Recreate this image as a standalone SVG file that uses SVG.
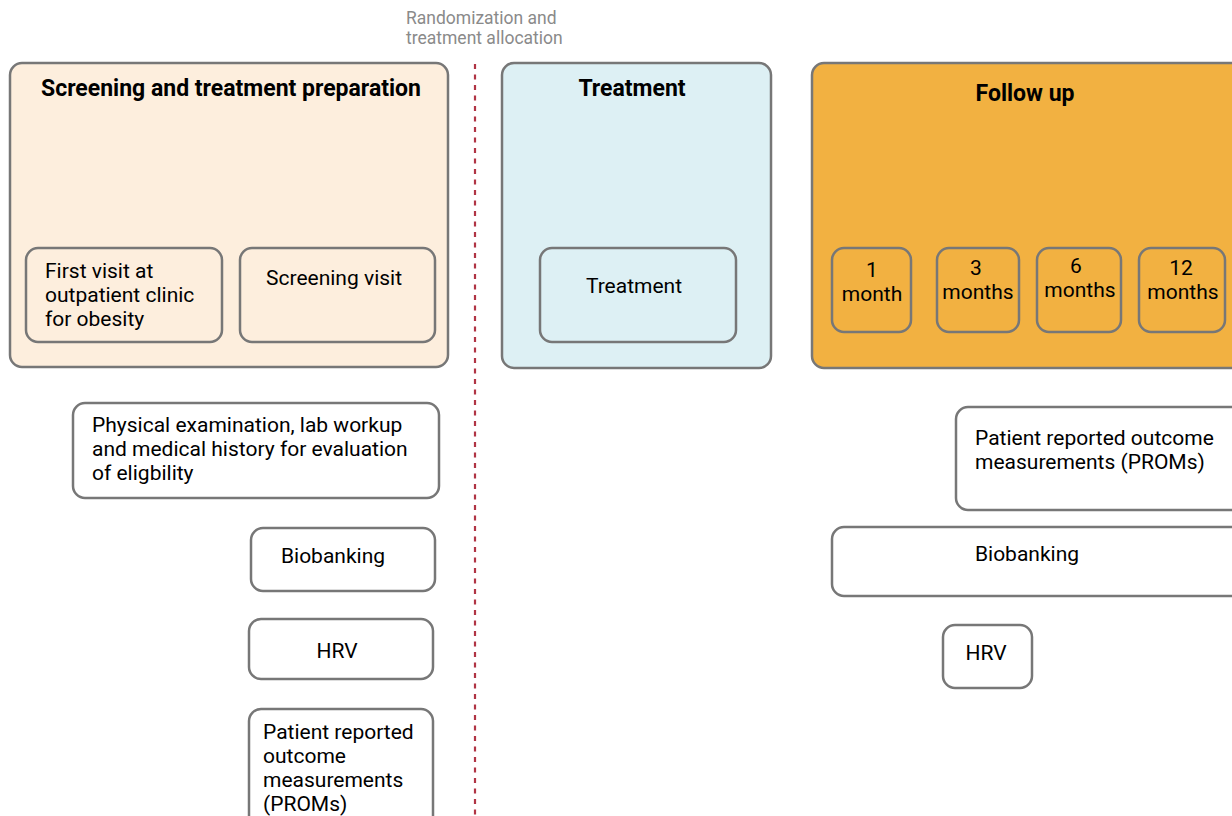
<svg xmlns="http://www.w3.org/2000/svg" width="1232" height="816" viewBox="0 0 1232 816">
<style>
text{font-family:Roboto,"Liberation Sans",sans-serif;fill:#000}
.t{font-size:21px}
.h{font-size:23px;font-weight:bold}
.c{text-anchor:middle}
.box{stroke:#777;stroke-width:2.5}
.w{fill:#fff}
.note{font-size:17.5px;fill:#8a8a8a}
</style>
<rect width="1232" height="816" fill="#fff"/>
<g id="connectors">
<line x1="475" y1="64" x2="475" y2="816" stroke="#b03444" stroke-width="2.2" stroke-dasharray="5 5.5"/>
</g>
<g id="randomization">
<text class="note" x="406" y="24">Randomization and</text>
<text class="note" x="406" y="44">treatment allocation</text>
</g>
<g id="screening">
<rect class="box" x="10" y="63" width="438" height="304" rx="12" fill="#fdeedd"/>
<text class="h c" x="231" y="96">Screening and treatment preparation</text>
</g>
<g id="first-visit">
<rect class="box" x="26" y="248" width="196" height="94" rx="12" fill="#fdeedd"/>
<text class="t" x="45" y="278">First visit at</text>
<text class="t" x="45" y="302">outpatient clinic</text>
<text class="t" x="45" y="326">for obesity</text>
</g>
<g id="screening-visit">
<rect class="box" x="240" y="248" width="195" height="94" rx="12" fill="#fdeedd"/>
<text class="t" x="266" y="285">Screening visit</text>
</g>
<g id="treatment">
<rect class="box" x="502" y="63" width="269" height="305" rx="12" fill="#ddf0f4"/>
<text class="h c" x="632" y="96">Treatment</text>
</g>
<g id="treatment-inner">
<rect class="box" x="540" y="248" width="196" height="94" rx="12" fill="#ddf0f4"/>
<text class="t c" x="634" y="293">Treatment</text>
</g>
<g id="followup">
<rect class="box" x="812" y="63" width="432" height="305" rx="12" fill="#f2b141"/>
<text class="h c" x="1025" y="101">Follow up</text>
</g>
<g id="m1">
<rect class="box" x="832" y="248" width="79" height="84" rx="12" fill="#f2b141"/>
<text class="t c" x="872" y="277">1</text>
<text class="t c" x="872" y="301">month</text>
</g>
<g id="m3">
<rect class="box" x="937" y="248" width="82" height="84" rx="12" fill="#f2b141"/>
<text class="t c" x="976" y="275">3</text>
<text class="t c" x="978" y="299">months</text>
</g>
<g id="m6">
<rect class="box" x="1037" y="248" width="84" height="84" rx="12" fill="#f2b141"/>
<text class="t c" x="1076" y="273">6</text>
<text class="t c" x="1080" y="297">months</text>
</g>
<g id="m12">
<rect class="box" x="1139" y="248" width="86" height="84" rx="12" fill="#f2b141"/>
<text class="t c" x="1181" y="275">12</text>
<text class="t c" x="1183" y="299">months</text>
</g>
<g id="physical">
<rect class="box w" x="73" y="403" width="366" height="95" rx="12"/>
<text class="t" x="92" y="432">Physical examination, lab workup</text>
<text class="t" x="92" y="456">and medical history for evaluation</text>
<text class="t" x="92" y="480">of eligbility</text>
</g>
<g id="biobanking-1">
<rect class="box w" x="251" y="528" width="184" height="63" rx="12"/>
<text class="t c" x="333" y="563">Biobanking</text>
</g>
<g id="hrv-1">
<rect class="box w" x="249" y="619" width="184" height="60" rx="12"/>
<text class="t c" x="337" y="658">HRV</text>
</g>
<g id="proms-1">
<rect class="box w" x="249" y="709" width="184" height="120" rx="12"/>
<text class="t" x="263" y="739">Patient reported</text>
<text class="t" x="263" y="763">outcome</text>
<text class="t" x="263" y="787">measurements</text>
<text class="t" x="263" y="811">(PROMs)</text>
</g>
<g id="proms-2">
<rect class="box w" x="956" y="407" width="290" height="103" rx="12"/>
<text class="t" x="975" y="445">Patient reported outcome</text>
<text class="t" x="975" y="469">measurements (PROMs)</text>
</g>
<g id="biobanking-2">
<rect class="box w" x="832" y="527" width="414" height="69" rx="12"/>
<text class="t c" x="1027" y="561">Biobanking</text>
</g>
<g id="hrv-2">
<rect class="box w" x="943" y="625" width="89" height="63" rx="12"/>
<text class="t c" x="986" y="660">HRV</text>
</g>
</svg>
